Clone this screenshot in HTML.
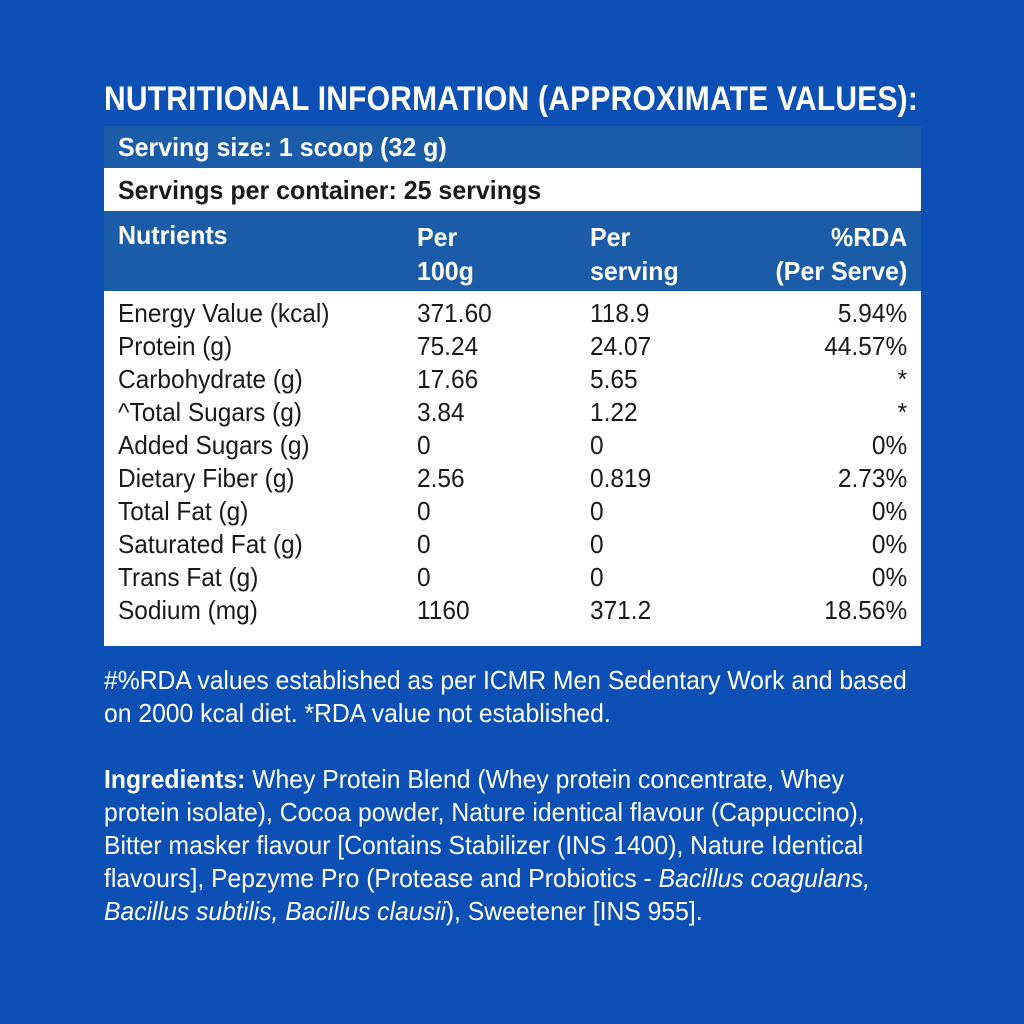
<!DOCTYPE html>
<html><head><meta charset="utf-8"><style>
body{margin:0;width:1024px;height:1024px;background:#0c50b6;overflow:hidden;position:relative;font-family:"Liberation Sans",sans-serif;color:#fff}
div{position:absolute;white-space:nowrap}
.t{left:104px;top:80px;font-size:34px;font-weight:bold;letter-spacing:0.3px;transform:scaleX(0.88);transform-origin:0 0}
.box{left:104px;width:817px}
.r{font-size:26px;line-height:33px;color:#1a1a1a;transform:scaleX(0.94);transform-origin:0 0}
.h{font-size:26px;font-weight:bold;color:#fff;transform:scaleX(0.96);transform-origin:0 0}
.rt{transform-origin:100% 0}
.f{font-size:26px;left:104px;line-height:33px;transform:scaleX(0.95);transform-origin:0 0}
i{font-style:italic}
</style></head><body>
<div class="t">NUTRITIONAL INFORMATION (APPROXIMATE VALUES):</div>
<div class="box" style="top:126px;height:42px;background:#1a5ca8"></div>
<div class="box" style="top:168px;height:43px;background:#fff"></div>
<div class="box" style="top:211px;height:80px;background:#1a5ca8"></div>
<div class="box" style="top:291px;height:355px;background:#fff"></div>
<div class="h" style="left:118px;top:132px">Serving size: 1 scoop (32 g)</div>
<div class="h" style="left:118px;top:175px;color:#1a1a1a">Servings per container: 25 servings</div>
<div class="h" style="left:118px;top:220px">Nutrients</div>
<div class="h" style="left:417px;top:220px;line-height:34px">Per<br>100g</div>
<div class="h" style="left:590px;top:220px;line-height:34px">Per<br>serving</div>
<div class="h rt" style="right:117px;top:220px;line-height:34px;text-align:right">%RDA<br>(Per Serve)</div>
<div class="r" style="left:118px;top:297px">Energy Value (kcal)<br>Protein (g)<br>Carbohydrate (g)<br>^Total Sugars (g)<br>Added Sugars (g)<br>Dietary Fiber (g)<br>Total Fat (g)<br>Saturated Fat (g)<br>Trans Fat (g)<br>Sodium (mg)</div>
<div class="r" style="left:417px;top:297px">371.60<br>75.24<br>17.66<br>3.84<br>0<br>2.56<br>0<br>0<br>0<br>1160</div>
<div class="r" style="left:590px;top:297px">118.9<br>24.07<br>5.65<br>1.22<br>0<br>0.819<br>0<br>0<br>0<br>371.2</div>
<div class="r rt" style="right:117px;top:297px;text-align:right">5.94%<br>44.57%<br>*<br>*<br>0%<br>2.73%<br>0%<br>0%<br>0%<br>18.56%</div>
<div class="f" style="top:664px">#%RDA values established as per ICMR Men Sedentary Work and based<br>on 2000 kcal diet. *RDA value not established.</div>
<div class="f" style="top:763px"><b>Ingredients:</b> Whey Protein Blend (Whey protein concentrate, Whey<br>protein isolate), Cocoa powder, Nature identical flavour (Cappuccino),<br>Bitter masker flavour [Contains Stabilizer (INS 1400), Nature Identical<br>flavours], Pepzyme Pro (Protease and Probiotics - <i>Bacillus coagulans,</i><br><i>Bacillus subtilis, Bacillus clausii</i>), Sweetener [INS 955].</div>
</body></html>
